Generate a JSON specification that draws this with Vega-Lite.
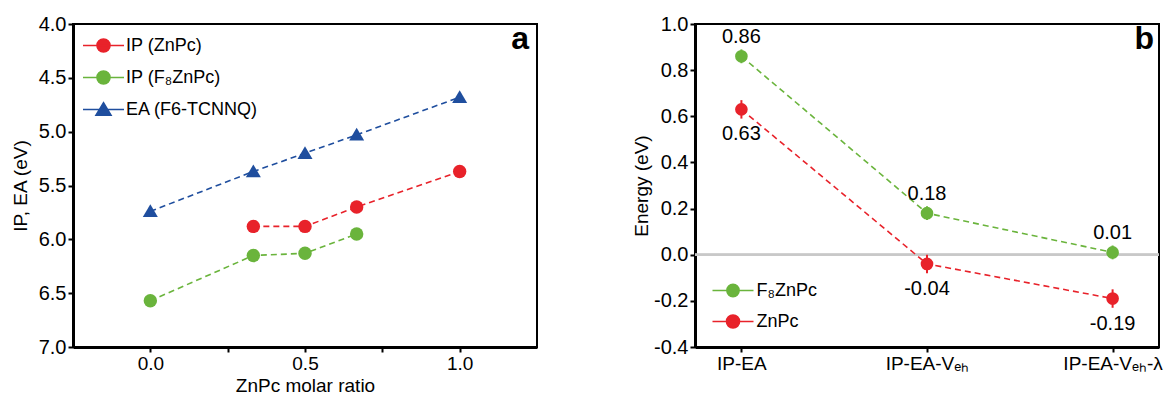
{
  "$schema": "https://vega.github.io/schema/vega-lite/v6.json",
  "padding": {"left": 10, "top": 13, "right": 0, "bottom": 0},
  "spacing": 93,
  "background": "white",
  "resolve": {"scale": {"color": "independent", "shape": "independent", "fill": "independent", "stroke": "independent"}, "legend": {"color": "independent", "shape": "independent", "fill": "independent", "stroke": "independent"}},
  "config": {
    "font": "Liberation Sans",
    "view": {"stroke": "black", "strokeWidth": 2},
    "axis": {
      "grid": false,
      "domainColor": "black",
      "domainWidth": 3,
      "tickColor": "black",
      "tickWidth": 2,
      "tickSize": 5,
      "labelFont": "Liberation Sans",
      "labelFontSize": 20,
      "labelColor": "black",
      "labelPadding": 2,
      "titleFont": "Liberation Sans",
      "titleFontSize": 19,
      "titleFontWeight": "normal",
      "titleColor": "black"
    },
    "axisX": {"labelFontSize": 19},
    "legend": {
      "labelFont": "Liberation Sans",
      "labelFontSize": 18,
      "labelColor": "black",
      "symbolSize": 1681,
      "symbolStrokeWidth": 1.5,
      "symbolOpacity": 1,
      "rowPadding": -24,
      "padding": 0
    },
    "title": {"font": "Liberation Sans", "fontSize": 32, "fontWeight": "bold", "color": "black"}
  },
  "datasets": {
    "a": [
      {"series": "EA (F6-TCNNQ)", "ratio": 0.0, "energy": 5.74},
      {"series": "EA (F6-TCNNQ)", "ratio": 0.333, "energy": 5.37},
      {"series": "EA (F6-TCNNQ)", "ratio": 0.5, "energy": 5.2},
      {"series": "EA (F6-TCNNQ)", "ratio": 0.667, "energy": 5.03},
      {"series": "EA (F6-TCNNQ)", "ratio": 1.0, "energy": 4.68},
      {"series": "IP (ZnPc)", "ratio": 0.333, "energy": 5.88},
      {"series": "IP (ZnPc)", "ratio": 0.5, "energy": 5.88},
      {"series": "IP (ZnPc)", "ratio": 0.667, "energy": 5.7},
      {"series": "IP (ZnPc)", "ratio": 1.0, "energy": 5.37},
      {"series": "IP (F₈ZnPc)", "ratio": 0.0, "energy": 6.57},
      {"series": "IP (F₈ZnPc)", "ratio": 0.333, "energy": 6.15},
      {"series": "IP (F₈ZnPc)", "ratio": 0.5, "energy": 6.13},
      {"series": "IP (F₈ZnPc)", "ratio": 0.667, "energy": 5.95}
    ],
    "b": [
      {"series": "F₈ZnPc", "step": "IP-EA", "e": 0.86, "err": 0.03, "lbl": "0.86"},
      {"series": "F₈ZnPc", "step": "IP-EA-Vₑₕ", "e": 0.18, "err": 0.03, "lbl": "0.18"},
      {"series": "F₈ZnPc", "step": "IP-EA-Vₑₕ-λ", "e": 0.01, "err": 0.03, "lbl": "0.01"},
      {"series": "ZnPc", "step": "IP-EA", "e": 0.63, "err": 0.04, "lbl": "0.63"},
      {"series": "ZnPc", "step": "IP-EA-Vₑₕ", "e": -0.04, "err": 0.04, "lbl": "-0.04"},
      {"series": "ZnPc", "step": "IP-EA-Vₑₕ-λ", "e": -0.19, "err": 0.04, "lbl": "-0.19"}
    ]
  },
  "hconcat": [
    {
      "width": 464,
      "height": 323,
      "data": {"name": "a"},
      "title": {"text": "a", "anchor": "end", "frame": "group", "baseline": "alphabetic", "offset": 0, "dy": 67, "dx": -8},
      "layer": [
        {
          "mark": {"type": "line", "strokeDash": [6, 4], "strokeWidth": 1.6},
          "encoding": {
            "x": {"field": "ratio", "type": "quantitative", "scale": {"domain": [-0.25, 1.25], "nice": false},
                  "axis": {"title": "ZnPc molar ratio", "values": [0, 0.25, 0.5, 0.75, 1], "labelExpr": "datum.value === 0.25 || datum.value === 0.75 ? '' : format(datum.value, '.1f')", "titlePadding": 3}},
            "y": {"field": "energy", "type": "quantitative", "scale": {"domain": [4, 7], "nice": false, "reverse": true},
                  "axis": {"title": "IP, EA (eV)", "values": [4, 4.5, 5, 5.5, 6, 6.5, 7], "format": ".1f", "titlePadding": 8}},
            "color": {"field": "series", "type": "nominal", "scale": {"range": ["#1f4e9e", "#6ab43c", "#e8222a"]}, "legend": null},
            "detail": {"field": "series"}
          }
        },
        {
          "transform": [{"filter": "datum.series !== 'EA (F6-TCNNQ)'"}],
          "mark": {"type": "point", "filled": true, "size": 180, "opacity": 1, "shape": "circle"},
          "encoding": {
            "x": {"field": "ratio", "type": "quantitative"},
            "y": {"field": "energy", "type": "quantitative"},
            "color": {"field": "series", "type": "nominal", "legend": null}
          }
        },
        {
          "transform": [{"filter": "datum.series === 'EA (F6-TCNNQ)'"}],
          "mark": {"type": "point", "filled": true, "size": 180, "opacity": 1, "shape": "M0,-1.05L1.12,0.85L-1.12,0.85Z"},
          "encoding": {
            "x": {"field": "ratio", "type": "quantitative"},
            "y": {"field": "energy", "type": "quantitative"},
            "color": {"field": "series", "type": "nominal", "legend": null}
          }
        },
        {
          "mark": {"type": "point", "filled": true, "opacity": 0},
          "encoding": {
            "x": {"field": "ratio", "type": "quantitative"},
            "y": {"field": "energy", "type": "quantitative"},
            "fill": {"field": "series", "type": "nominal", "scale": {"domain": ["IP (ZnPc)", "IP (F₈ZnPc)", "EA (F6-TCNNQ)"], "range": ["#e8222a", "#6ab43c", "#1f4e9e"]},
                     "legend": {"title": null, "orient": "top-left", "offset": 0, "symbolOffset": 9, "labelOffset": 1}},
            "stroke": {"field": "series", "type": "nominal", "scale": {"domain": ["IP (ZnPc)", "IP (F₈ZnPc)", "EA (F6-TCNNQ)"], "range": ["#e8222a", "#6ab43c", "#1f4e9e"]},
                     "legend": {"title": null, "orient": "top-left", "offset": 0, "symbolOffset": 9, "labelOffset": 1}},
            "shape": {"field": "series", "type": "nominal", "scale": {"domain": ["IP (ZnPc)", "IP (F₈ZnPc)", "EA (F6-TCNNQ)"], "range": [
                       "M-1,0L1,0M-0.32,0A0.32,0.32,0,1,1,0.32,0A0.32,0.32,0,1,1,-0.32,0Z",
                       "M-1,0L1,0M-0.32,0A0.32,0.32,0,1,1,0.32,0A0.32,0.32,0,1,1,-0.32,0Z",
                       "M-1,0L1,0M0,-0.33L0.37,0.28L-0.37,0.28Z"]},
                     "legend": {"title": null, "orient": "top-left", "offset": 0, "symbolOffset": 9, "labelOffset": 1}}
          }
        }
      ]
    },
    {
      "width": 464,
      "height": 323,
      "data": {"name": "b"},
      "title": {"text": "b", "anchor": "end", "frame": "group", "baseline": "alphabetic", "offset": 0, "dy": 67, "dx": -5},
      "layer": [
        {
          "mark": {"type": "rule", "color": "#c8c8c8", "strokeWidth": 2},
          "encoding": {"y": {"datum": 0, "type": "quantitative"}}
        },
        {
          "mark": {"type": "line", "strokeDash": [6, 4], "strokeWidth": 1.6},
          "encoding": {
            "x": {"field": "step", "type": "nominal", "sort": ["IP-EA", "IP-EA-Vₑₕ", "IP-EA-Vₑₕ-λ"], "scale": {"type": "point", "padding": 0.25},
                  "axis": {"title": null, "labelAngle": 0}},
            "y": {"field": "e", "type": "quantitative", "scale": {"domain": [-0.4, 1.0], "nice": false},
                  "axis": {"title": "Energy (eV)", "values": [-0.4, -0.2, 0, 0.2, 0.4, 0.6, 0.8, 1.0], "format": ".1f", "labelExpr": "replace(datum.label, '\u2212', '-')", "titlePadding": 2}},
            "color": {"field": "series", "type": "nominal", "scale": {"range": ["#6ab43c", "#e8222a"]}, "legend": null},
            "detail": {"field": "series"}
          }
        },
        {
          "mark": {"type": "errorbar", "ticks": false, "thickness": 2},
          "encoding": {
            "x": {"field": "step", "type": "nominal", "sort": ["IP-EA", "IP-EA-Vₑₕ", "IP-EA-Vₑₕ-λ"]},
            "y": {"field": "e", "type": "quantitative", "title": "Energy (eV)"},
            "yError": {"field": "err"},
            "color": {"field": "series", "type": "nominal", "legend": null}
          }
        },
        {
          "mark": {"type": "point", "filled": true, "size": 160, "opacity": 1, "shape": "circle"},
          "encoding": {
            "x": {"field": "step", "type": "nominal", "sort": ["IP-EA", "IP-EA-Vₑₕ", "IP-EA-Vₑₕ-λ"]},
            "y": {"field": "e", "type": "quantitative"},
            "color": {"field": "series", "type": "nominal", "legend": null}
          }
        },
        {
          "mark": {"type": "point", "filled": true, "opacity": 0},
          "encoding": {
            "x": {"field": "step", "type": "nominal", "sort": ["IP-EA", "IP-EA-Vₑₕ", "IP-EA-Vₑₕ-λ"]},
            "y": {"field": "e", "type": "quantitative"},
            "fill": {"field": "series", "type": "nominal", "scale": {"domain": ["F₈ZnPc", "ZnPc"], "range": ["#6ab43c", "#e8222a"]},
                     "legend": {"title": null, "orient": "bottom-left", "offset": 15.5, "symbolOffset": 0.5, "labelOffset": 2}},
            "stroke": {"field": "series", "type": "nominal", "scale": {"domain": ["F₈ZnPc", "ZnPc"], "range": ["#6ab43c", "#e8222a"]},
                     "legend": {"title": null, "orient": "bottom-left", "offset": 15.5, "symbolOffset": 0.5, "labelOffset": 2}},
            "shape": {"field": "series", "type": "nominal", "scale": {"domain": ["F₈ZnPc", "ZnPc"], "range": [
                       "M-1,0L1,0M-0.3,0A0.3,0.3,0,1,1,0.3,0A0.3,0.3,0,1,1,-0.3,0Z",
                       "M-1,0L1,0M-0.32,0A0.32,0.32,0,1,1,0.32,0A0.32,0.32,0,1,1,-0.32,0Z"]},
                     "legend": {"title": null, "orient": "bottom-left", "offset": 15.5, "symbolOffset": 0.5, "labelOffset": 2}}
          }
        },
        {
          "transform": [{"filter": "datum.series === 'F₈ZnPc'"}],
          "mark": {"type": "text", "dy": -19, "fontSize": 20, "font": "Liberation Sans", "color": "black"},
          "encoding": {
            "x": {"field": "step", "type": "nominal", "sort": ["IP-EA", "IP-EA-Vₑₕ", "IP-EA-Vₑₕ-λ"]},
            "y": {"field": "e", "type": "quantitative"},
            "text": {"field": "lbl"}
          }
        },
        {
          "transform": [{"filter": "datum.series === 'ZnPc'"}],
          "mark": {"type": "text", "dy": 25, "fontSize": 20, "font": "Liberation Sans", "color": "black"},
          "encoding": {
            "x": {"field": "step", "type": "nominal", "sort": ["IP-EA", "IP-EA-Vₑₕ", "IP-EA-Vₑₕ-λ"]},
            "y": {"field": "e", "type": "quantitative"},
            "text": {"field": "lbl"}
          }
        }
      ]
    }
  ]
}
